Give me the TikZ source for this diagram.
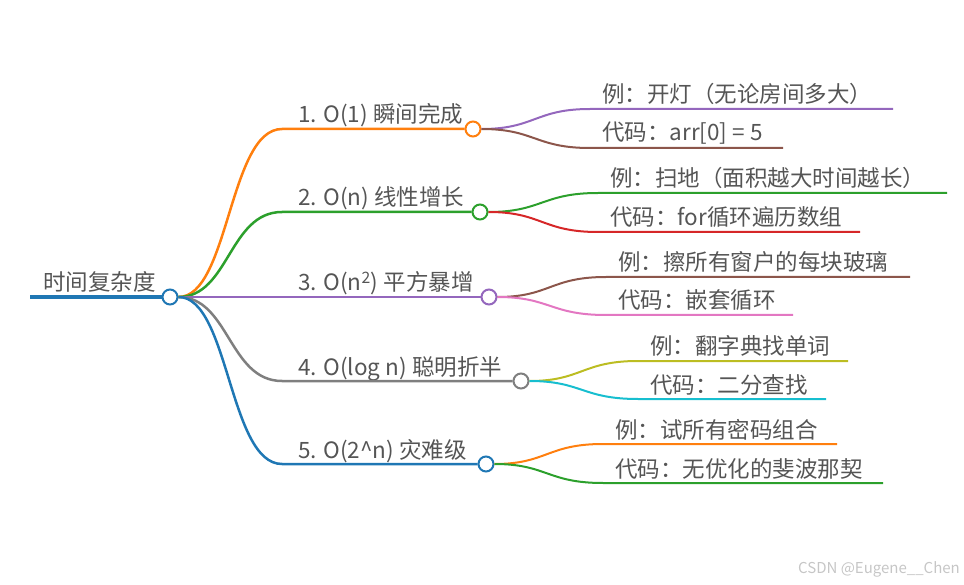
\documentclass[tikz,border=0pt]{standalone}
\usepackage{fontspec}
\setmainfont{Noto Sans CJK SC}
\usetikzlibrary{positioning}
\definecolor{cblue}{HTML}{1F77B4}
\definecolor{corange}{HTML}{FF7F0E}
\definecolor{cgreen}{HTML}{2CA02C}
\definecolor{cred}{HTML}{D62728}
\definecolor{cpurple}{HTML}{9467BD}
\definecolor{cbrown}{HTML}{8C564B}
\definecolor{cpink}{HTML}{E377C2}
\definecolor{cgray}{HTML}{7F7F7F}
\definecolor{colive}{HTML}{BCBD22}
\definecolor{ccyan}{HTML}{17BECF}
\definecolor{txt}{RGB}{85,85,85}

\begin{document}
\begin{tikzpicture}[x=1pt,y=-1pt,font=\fontsize{22.5}{26}\selectfont,
  hub/.style={circle,draw,fill=white,line width=2pt,minimum size=15pt,inner sep=0pt},
  btext/.style={anchor=base west,text=txt,inner sep=0pt},
  trunk/.style={line width=2.5pt},
  twig/.style={line width=2pt}]
\useasboundingbox (0,0) rectangle (964,585);

% root
\coordinate (r0) at (30,297);
\node[hub,draw=cblue] (root) at (170,297) {};
\node[btext] (rtext) at (43,291) {时间复杂度};
\draw[cblue,line width=4pt] (r0) -- (root.west);

% branches
\node[hub,draw=corange] (b1) at (473,129) {};
\node[hub,draw=cgreen] (b2) at (480,212) {};
\node[hub,draw=cpurple] (b3) at (489,297) {};
\node[hub,draw=cgray] (b4) at (521,381) {};
\node[hub,draw=cblue] (b5) at (486,464) {};

\node[btext] (t1) at (298,123) {1. O(1) 瞬间完成};
\node[btext] (t2) at (298,206) {2. O(n) 线性增长};
\node[btext] (t3) at (298,291) {3. O(n\textsuperscript{2}) 平方暴增};
\node[btext] (t4) at (298,375) {4. O(log n) 聪明折半};
\node[btext] (t5) at (298,458) {5. O(2\textasciicircum n) 灾难级};

\draw[trunk,corange] (root.east) .. controls (229,297) and (229,129) .. (282,129) -- (b1.west);
\draw[trunk,cgreen] (root.east) .. controls (229,297) and (229,212) .. (282,212) -- (b2.west);
\draw[trunk,cpurple] (root.east) -- (b3.west);
\draw[trunk,cgray] (root.east) .. controls (229,297) and (229,381) .. (282,381) -- (b4.west);
\draw[trunk,cblue] (root.east) .. controls (229,297) and (229,464) .. (282,464) -- (b5.west);

% leaves
\node[btext] (l1a) at (602,103) {例：开灯（无论房间多大）};
\node[btext] (l1b) at (602,141) {代码：arr[0] = 5};
\node[btext] (l2a) at (610,187) {例：扫地（面积越大时间越长）};
\node[btext] (l2b) at (610,226) {代码：for循环遍历数组};
\node[btext] (l3a) at (618,271) {例：擦所有窗户的每块玻璃};
\node[btext] (l3b) at (618,309) {代码：嵌套循环};
\node[btext] (l4a) at (650,355) {例：翻字典找单词};
\node[btext] (l4b) at (650,393) {代码：二分查找};
\node[btext] (l5a) at (615,438) {例：试所有密码组合};
\node[btext] (l5b) at (615,477) {代码：无优化的斐波那契};

\coordinate (e1a) at (893,109);
\coordinate (e1b) at (783,148);
\coordinate (e2a) at (947,193);
\coordinate (e2b) at (860,232);
\coordinate (e3a) at (910,277);
\coordinate (e3b) at (793,315);
\coordinate (e4a) at (848,361);
\coordinate (e4b) at (826,399);
\coordinate (e5a) at (837,444);
\coordinate (e5b) at (883,483);

\draw[twig,cpurple] (b1.east) .. controls (535,129) and (535,109) .. (590,109) -- (e1a);
\draw[twig,cbrown] (b1.east) .. controls (535,129) and (535,148) .. (590,148) -- (e1b);
\draw[twig,cgreen] (b2.east) .. controls (542,212) and (542,193) .. (598,193) -- (e2a);
\draw[twig,cred] (b2.east) .. controls (542,212) and (542,232) .. (598,232) -- (e2b);
\draw[twig,cbrown] (b3.east) .. controls (550,297) and (550,277) .. (606,277) -- (e3a);
\draw[twig,cpink] (b3.east) .. controls (550,297) and (550,315) .. (606,315) -- (e3b);
\draw[twig,colive] (b4.east) .. controls (582,381) and (582,361) .. (638,361) -- (e4a);
\draw[twig,ccyan] (b4.east) .. controls (582,381) and (582,399) .. (638,399) -- (e4b);
\draw[twig,corange] (b5.east) .. controls (547,464) and (547,444) .. (603,444) -- (e5a);
\draw[twig,cgreen] (b5.east) .. controls (547,464) and (547,483) .. (603,483) -- (e5b);

\node[anchor=base east,inner sep=0pt,text=gray!45,font=\fontsize{15}{18}\selectfont] (mark) at (960,573) {CSDN @Eugene\_\_Chen};
\end{tikzpicture}
\end{document}
